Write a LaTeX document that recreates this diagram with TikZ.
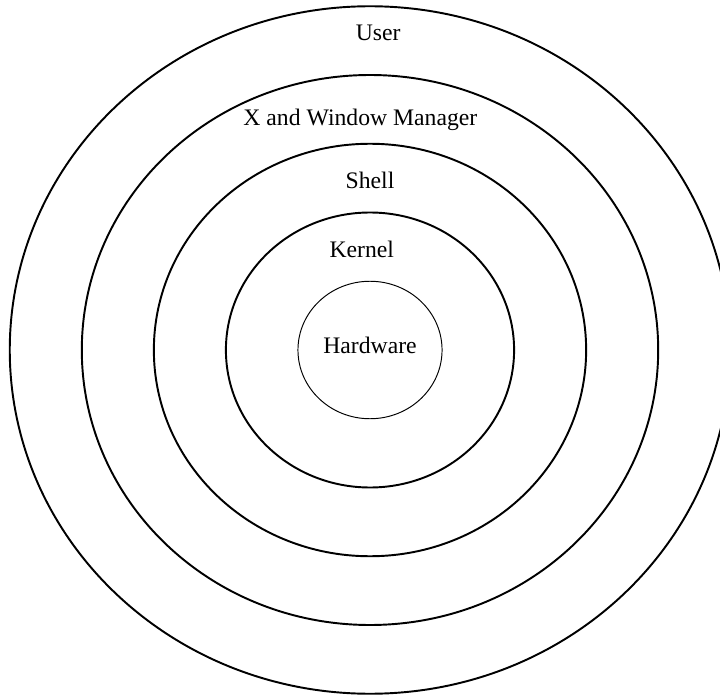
\documentclass[tikz,border=0pt]{standalone}
\usepackage{fontspec}
\setmainfont{Liberation Serif}
\usepackage{tikz}

\begin{document}
\begin{tikzpicture}[ring/.style={line width=0.8pt}, layer/.style={font=\fontsize{9.8}{12}\selectfont, inner sep=0pt}]
    \useasboundingbox (-5.382,-5.033) rectangle (5.091,5.091);
    \foreach \r in {2,3,4,5}
        \draw[ring] (0,0) ellipse [x radius=1.048*\r, y radius=\r];
    \draw[line width=0.4pt] (0,0) ellipse [x radius=1.048, y radius=1];
    \node[layer] (user) at (0.12,4.61) {User};
    \node[layer] (xwm) at (-0.14,3.345) {X and Window Manager};
    \node[layer] (shell) at (0,2.47) {Shell};
    \node[layer] (kernel) at (-0.12,1.47) {Kernel};
    \node[layer] (hw) at (0,0.06) {Hardware};
\end{tikzpicture}
\end{document}
